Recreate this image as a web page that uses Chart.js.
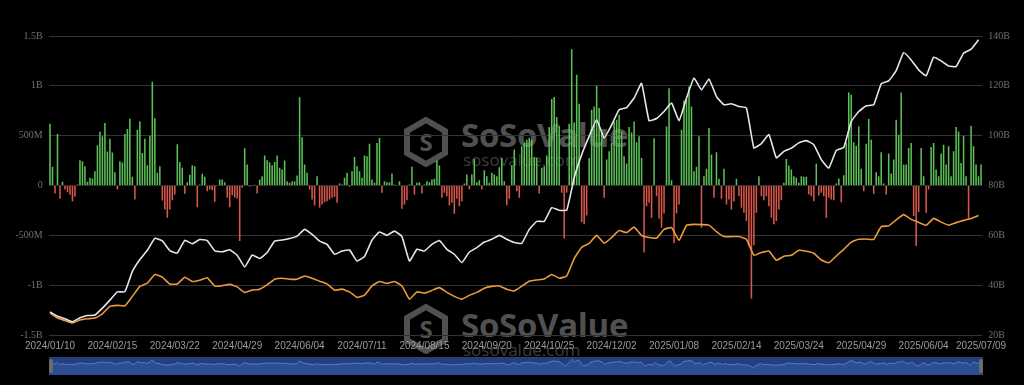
<!DOCTYPE html>
<html>
<head>
<meta charset="utf-8">
<script src="https://cdn.jsdelivr.net/npm/chart.js@4.4.1/dist/chart.umd.min.js"></script>
<style>
  html, body { margin: 0; padding: 0; background: #000; }
  #wrap { position: relative; width: 1024px; height: 385px; overflow: hidden; background: #000; }
  #marketChart { position: absolute; left: 0; top: 0; z-index: 2; }
  .wm { position: absolute; z-index: 1; white-space: nowrap; color: #505050; font-family: 'Open Sans', sans-serif; line-height: 1; }
  .wm.brand { font-size: 33px; font-weight: 700; letter-spacing: -0.3px; }
  .wm.site { font-size: 17px; font-weight: 400; color: #3c3c3c; }
  #zoomBox { position: absolute; left: 49px; top: 357px; width: 934px; height: 18px; background: #243f7c; z-index: 2; }
  #zoomChart { position: absolute; left: 0; top: 0; }
  .handle { position: absolute; top: 2px; width: 4px; height: 14px; background: #6b6b6b; border-radius: 2px; z-index: 3; }
</style>
</head>
<body>
<div id="wrap">
  <!-- watermarks sit behind the chart -->
  <svg class="wm" style="left:403px;top:117px" width="46" height="50" viewBox="0 0 46 50">
    <polygon points="23,3 42,14 42,36 23,47 4,36 4,14" fill="none" stroke="#505050" stroke-width="6"/>
    <text x="23" y="34" text-anchor="middle" font-family="Open Sans" font-weight="700" font-size="24" fill="#505050">S</text>
  </svg>
  <div class="wm brand" style="left:461px;top:118px">SoSoValue</div>
  <div class="wm site" style="left:463px;top:151px">sosovalue.com</div>

  <svg class="wm" style="left:403px;top:304px" width="46" height="50" viewBox="0 0 46 50">
    <polygon points="23,3 42,14 42,36 23,47 4,36 4,14" fill="none" stroke="#505050" stroke-width="6"/>
    <text x="23" y="34" text-anchor="middle" font-family="Open Sans" font-weight="700" font-size="24" fill="#505050">S</text>
  </svg>
  <div class="wm brand" style="left:461px;top:308px">SoSoValue</div>
  <div class="wm site" style="left:463px;top:341px">sosovalue.com</div>

  <canvas id="marketChart" width="1024" height="385"></canvas>
  <div id="zoomBox">
    <canvas id="zoomChart" width="934" height="18"></canvas>
    <div class="handle" style="left:0"></div>
    <div class="handle" style="right:0"></div>
  </div>
</div>
<script>
// daily net inflow, $M (bars, left axis)
const netInflow = [
  620, 187, -80, 516, -133, 37, -40, -67, -93, -157, -113, 10, 253, 243, 193, 37, 77, 70,
  143, 403, 540, 493, 626, 340, 470, 330, 133, -40, 243, 230, 516, 566, 670, 87, -140, 560, 643, 327, 470, 203, 500, 1040,
  676, 127, 193, -150, -240, -323,
  -240, -147, -90, 413, 237, 177, -83, 33, 107, 203, 193, -217, 10, 117, 87, -57, -40, -47, -163, -5, 60, 60, 33, -123, -217, -97,
  -120, -130, -557,
  -23, 373, 210, -13, 3, 7, -80, 60, 93, 300, 253, 233, 203, 237, 300, 177, 160, 250, 43, 27, 43, 43, 100,
  886,
  483, 210, 127, -40, -140, -200, 93, -223, -190, -167, -157, -140, -123, -113, -173, 20, 10, 77, 127, -13, 143, 287, 193, 143, 77, 300, 293, 420, 60, 27, 427,
  480,
  -73, 43, 33, 33, 120, 10, 0, 43, -233, -190, -147, 10, 187, -90, 27, 33, -80, 10,
  43, 33, 60, 67, 253, 200, -123, -73, -107, -200, -173, -283, -133, -207, -157, 20, 110, -40, 110, 267,
  33, 53, -40, 153, 93, 27, 127, 110, 93, 183, 277, 43, -197, -133, 200, 360, -57, -123, 393, 427,
  460, 477, 460, 287, 277, -80, 177, 193, 300, 587, 867, 887, 687, 600, -73, -533, -73, 620, 1367, 633,
  1110, 820, -367, -390, -300, 277, 760, 793, 1000, 777, 543, -123, 260, 343, 427,
  640, 660, 710, 543, 293, 220, 587, 533, 643, 433, 493, 277, -673, -207, -173, -323, 473, -107, -333, -423,
  -280, 593, 977, 53, -580, -280, -190, 560, 853, 867, 993, 793, 143, 187, 493, -423, 93, 167, 577, 310,
  -123, 333, 67, -133, 167, -190, -140, -240, -160, 67, -107, -223, -273, -357, -607, -1133, -600, -273, 93, -107,
  -147, -107, -207, -323, -390, -357, -240, -147, 27, 267, 200, 160, 93, 77, 27, 93,
  87, 87, -90, -107, -157, 217, -100, -73, -107, -323, -123, -140, -147, 20, 70, -167, 103, 433, 933, 910,
  433, 400, 593, 167, -57, 420, 667, 460, -83, 133, 93, 333, 20, -90, 320, 120, 260, 660, 510, 933,
  210, 210, 377, 427, -307, -607, -267, 377, 93, -273, -40, 387, 427, 160, 93, 320, 410, 210, 393, 93,
  343, 587, 543, 227, 500, 93, -330, 600, 393, 210, 93, 210
];

// line values in $B (right axis), read every 3rd day
const lineStep = 3;
const totalAssets = [
  29.3, 27.5, 26.5, 25.3, 26.9, 27.8, 28, 30.8, 34, 37.3, 37.4, 45.5, 50.3, 54, 58.8, 57.8, 53.9, 52.9, 58, 56.6, 58.3, 57.9, 53.8, 53.4, 54.2, 52,
  47.3, 52.1, 50.7, 53.1, 57.7, 58.1, 58.7, 59.7, 62.4, 60.4, 57.7, 56.4, 52.4, 53.7, 54.1, 49.7, 51.5, 58.1, 61.3, 60, 61.7, 59.5, 49.7, 54.4, 53.7,
  56.4, 57.9, 54.4, 52.4, 49.1, 53.3, 55.1, 57.3, 58.4, 60, 58.4, 57.1, 56.8, 62.4, 65.6, 65.6, 71.1, 70.1, 70.1, 83.1, 92.4, 99.7, 106.4, 99.1, 104.3,
  110.4, 111.3, 115.1, 121, 106, 106.9, 109.7, 113.1, 106, 115.1, 123.1, 118.4, 122.7, 115.7, 112.4, 112.8, 111.7, 111.1, 95.1, 96.8, 100.4, 91.1, 93.7, 95, 97.1,
  98, 96.4, 90.4, 87, 94.1, 95.3, 105.7, 109.7, 112, 112.4, 120.8, 122, 126.1, 133.3, 130.4, 126.4, 124, 131.5, 130, 128, 127.7, 133.1, 134.7, 138.5
];
const cumInflow = [
  28.8, 26.8, 25.8, 24.8, 26, 26.5, 26.8, 28.5, 31.5, 31.9, 31.7, 35.5, 39.5, 40.8, 44.3, 43.2, 40.5, 40.5, 43.2, 41.5, 42, 43, 39.6, 39.8, 40.3, 39.3,
  37.1, 38, 38.4, 40.1, 42.4, 42.8, 42.4, 42.4, 43.7, 42.8, 41.6, 40.5, 38, 38.4, 37.3, 35.1, 36, 39.7, 41.5, 40.7, 41.5, 39.7, 34.4, 37.3, 36.8,
  37.9, 39, 37.1, 35.5, 34.4, 35.9, 37.1, 38.8, 39.5, 39.7, 38.4, 37.7, 39.6, 41.6, 42.1, 42.5, 44.3, 42.8, 43.7, 50.7, 55.2, 56.8, 60, 56.8, 59.1,
  61.9, 61.1, 63.3, 60, 59.1, 58.9, 62.4, 63.1, 58, 64, 64.4, 64.3, 64.1, 61.5, 59.5, 59.5, 59.5, 58.4, 52, 53.1, 53.7, 50, 51.6, 52, 54,
  53.6, 52.8, 50.1, 49, 51.7, 54.4, 57.3, 58.4, 58.5, 58.4, 63.5, 63.8, 66.2, 68.3, 66.4, 65.2, 64, 66.8, 65.3, 64.1, 65.1, 66, 66.8, 68
];

const tickLabels = ['2024/01/10', '2024/02/15', '2024/03/22', '2024/04/29', '2024/06/04', '2024/07/11', '2024/08/15', '2024/09/20',
  '2024/10/25', '2024/12/02', '2025/01/08', '2025/02/14', '2025/03/24', '2025/04/29', '2025/06/04', '2025/07/09'];
const tickIndex = [0, 25, 50, 75, 100, 125, 150, 175, 200, 225, 250, 275, 300, 325, 350, 373];

const days = netInflow.map((_, i) => String(i));
const sampled = arr => netInflow.map((_, i) => i % lineStep === 0 ? (arr[i / lineStep] ?? null) : null);

const fmtLeft = v => v === 0 ? '0' : (Math.abs(v) >= 1000 ? (v / 1000) + 'B' : v + 'M');

const ctx = document.getElementById('marketChart').getContext('2d');
new Chart(ctx, {
  data: {
    labels: days,
    datasets: [
      {
        type: 'line',
        label: 'Total Net Assets',
        data: sampled(totalAssets),
        yAxisID: 'y1',
        borderColor: '#e6e6e6',
        borderWidth: 1.6,
        pointRadius: 0,
        tension: 0.12,
        spanGaps: true,
        order: 1
      },
      {
        type: 'line',
        label: 'Cumulative Net Inflow',
        data: sampled(cumInflow),
        yAxisID: 'y1',
        borderColor: '#eb9a3c',
        borderWidth: 1.6,
        pointRadius: 0,
        tension: 0.12,
        spanGaps: true,
        order: 1
      },
      {
        type: 'bar',
        label: 'Daily Net Inflow',
        data: netInflow,
        yAxisID: 'y',
        backgroundColor: c => c.raw >= 0 ? '#5cbf57' : '#d9574b',
        barPercentage: 0.62,
        categoryPercentage: 1,
        order: 2
      }
    ]
  },
  options: {
    responsive: false,
    animation: false,
    layout: { padding: { top: 36, bottom: 30, left: 0, right: 0 } },
    plugins: { legend: { display: false }, tooltip: { enabled: false } },
    scales: {
      x: {
        type: 'category',
        offset: true,
        grid: { display: false, drawTicks: false },
        border: { display: false },
        ticks: {
          autoSkip: false,
          maxRotation: 0,
          minRotation: 0,
          padding: 5,
          color: '#9a9a9a',
          font: { family: 'Liberation Sans', size: 10 },
          callback: (v, i) => {
            const k = tickIndex.indexOf(i);
            return k >= 0 ? tickLabels[k] : '';
          }
        },
        afterFit: s => { s.height = 20; }
      },
      y: {
        position: 'left',
        min: -1500,
        max: 1500,
        grid: { color: '#333333', drawTicks: false },
        border: { display: false },
        ticks: {
          stepSize: 500,
          padding: 6,
          color: '#707070',
          font: { family: 'Liberation Serif', size: 10 },
          callback: fmtLeft
        },
        afterFit: s => { s.width = 48.75; }
      },
      y1: {
        position: 'right',
        min: 20,
        max: 140,
        grid: { display: false, drawTicks: false },
        border: { display: false },
        ticks: {
          stepSize: 20,
          padding: 6,
          color: '#707070',
          font: { family: 'Liberation Serif', size: 10 },
          callback: v => v + 'B'
        },
        afterFit: s => { s.width = 41.7; }
      }
    }
  }
});

// overview strip under the axis
new Chart(document.getElementById('zoomChart').getContext('2d'), {
  type: 'line',
  data: {
    labels: days,
    datasets: [{
      data: netInflow,
      borderColor: '#5a80cf',
      borderWidth: 1,
      backgroundColor: '#2d4e93',
      fill: 'start',
      pointRadius: 0,
      tension: 0.2
    }]
  },
  options: {
    responsive: false,
    animation: false,
    layout: { padding: 0 },
    plugins: { legend: { display: false }, tooltip: { enabled: false } },
    scales: {
      x: { display: false },
      y: { display: false, min: -3300, max: 2100 }
    }
  }
});
</script>
</body>
</html>
